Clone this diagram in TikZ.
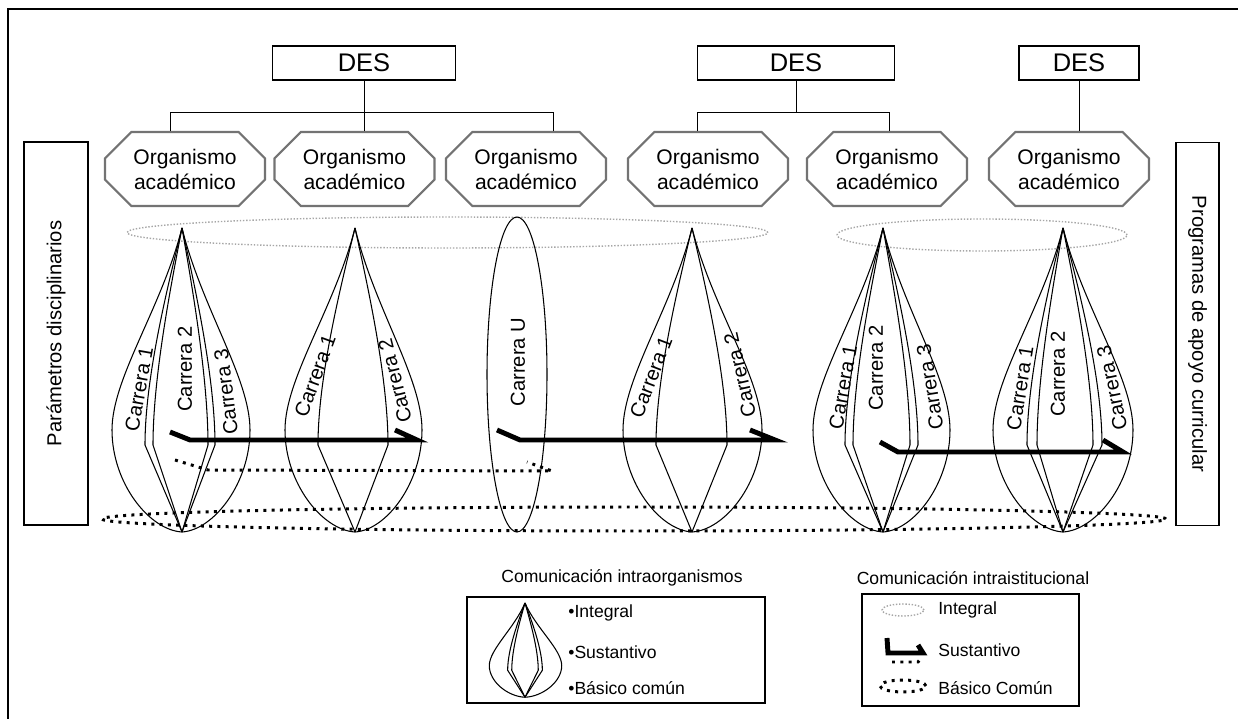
\documentclass[tikz,border=0pt]{standalone}
\usepackage{fontspec}
\setmainfont{Liberation Sans}
\usetikzlibrary{shapes.misc,calc,positioning}

\tikzset{
  des/.style={draw, line width=0.75pt, font=\fontsize{14.5}{16}\selectfont, minimum height=0.68cm},
  organismo/.style={chamfered rectangle, chamfered rectangle xsep=0.44cm, draw=black!55, line width=1.2pt,
    minimum width=3.2cm, minimum height=1.48cm, align=center, font=\fontsize{12}{14.2}\selectfont, inner sep=0pt},
  lateral/.style={draw, line width=0.75pt, minimum width=7.66cm, font=\fontsize{11.5}{13}\selectfont},
  integral/.style={draw=black!35, densely dotted, line width=0.8pt},
  petalo/.style={line width=0.6pt},
  carrera/.style={font=\fontsize{11.5}{13}\selectfont, inner sep=0pt},
  sustantivo/.style={line width=2.8pt},
  basico/.style={line width=1.7pt, dash pattern=on 1.7pt off 3pt},
  leyenda/.style={font=\fontsize{10}{12}\selectfont, inner sep=0pt},
  caja/.style={draw, line width=0.75pt}
}

\begin{document}
\begin{tikzpicture}[x=0.02cm, y=-0.02cm]
\useasboundingbox (0,0) rectangle (1238,719);
\draw[line width=0.75pt] (8,719) -- (8,9) -- (1238,9);

\node[des, minimum width=3.66cm] (des1) at (364,63) {DES};
\node[des, minimum width=3.94cm] (des2) at (796,63) {DES};
\node[des, minimum width=2.4cm] (des3) at (1079,63) {DES};

\node[organismo] (oa1) at (185,169) {Organismo\\académico};
\node[organismo] (oa2) at (354.5,169) {Organismo\\académico};
\node[organismo] (oa3) at (526,169) {Organismo\\académico};
\node[organismo] (oa4) at (708,169) {Organismo\\académico};
\node[organismo] (oa5) at (887,169) {Organismo\\académico};
\node[organismo] (oa6) at (1069,169) {Organismo\\académico};

\draw (des1.south) -- ++(0,32) coordinate (b1);
\draw ($(oa1.north)+(-15,0)$) |- (b1) -| ($(oa3.north)+(27,0)$);
\draw (b1) -- (b1 |- oa2.north);
\draw (des2.south) -- ++(0,32) coordinate (b2);
\draw ($(oa4.north)+(-11,0)$) |- (b2) -| ($(oa5.north)+(2,0)$);
\draw (des3.south) -- (des3.south |- oa6.north);

\node[lateral, minimum height=1.28cm, rotate=90] (param) at (56,333.5) {Parámetros disciplinarios};
\node[lateral, minimum height=0.86cm, rotate=-90] (progr) at (1197.5,334) {Programas de apoyo curricular};

\draw[integral] (447.5,232.5) ellipse [x radius=6.41cm, y radius=0.31cm];
\draw[integral] (982,235) ellipse [x radius=2.9cm, y radius=0.32cm];

\foreach \cx/\cy/\sx/\sy/\ol/\il in {182/228/1/1/{-70,68}/{-37,-29,26,33}, 355/228/1/1/{-70,67}/{-37,33},
    692/228/1/1/{-69,70}/{-36,35}, 883/228/1/1/{-70,67}/{-38,-30,27,35},
    1063/228/1/1/{-70,70}/{-36,-26,30,39}, 525/603/0.51/0.31/{-70,72}/{-34,-26,26,34}}{
  \begin{scope}[shift={(\cx,\cy)}, xscale=\sx, yscale=\sy]
    \foreach \w in \ol
      \draw[petalo] (0,0) .. controls ({0.29*\w},80) and (\w,150) .. (\w,202)
        .. controls (\w,255) and ({0.47*\w},302) .. (0,304);
    \foreach \w in \il
      \draw[petalo] (0,0) .. controls ({0.4*\w},60) and (\w,150) .. (\w,217) -- (0,304);
  \end{scope}
}
\draw[petalo] (517,374.5) ellipse [x radius=0.6cm, y radius=3.15cm];

\node[carrera, rotate=80] (f1c1) at (139,389) {Carrera 1};
\node[carrera, rotate=90] (f1c2) at (185,369) {Carrera 2};
\node[carrera, rotate=97] (f1c3) at (226,392) {Carrera 3};
\node[carrera, rotate=70] (f2c1) at (315,376) {Carrera 1};
\node[carrera, rotate=104] (f2c2) at (395,381) {Carrera 2};
\node[carrera, rotate=90] (f3cu) at (518,362) {Carrera U};
\node[carrera, rotate=69] (f4c1) at (651,377) {Carrera 1};
\node[carrera, rotate=103] (f4c2) at (740,375) {Carrera 2};
\node[carrera, rotate=80] (f5c1) at (843,387) {Carrera 1};
\node[carrera, rotate=90] (f5c2) at (876,368) {Carrera 2};
\node[carrera, rotate=99] (f5c3) at (930,387) {Carrera 3};
\node[carrera, rotate=81] (f6c1) at (1020,388) {Carrera 1};
\node[carrera, rotate=90] (f6c2) at (1058,374) {Carrera 2};
\node[carrera, rotate=102] (f6c3) at (1112,388) {Carrera 3};

\draw[sustantivo] (170,432) -- (190,440) -- (417,440) -- (395,430);
\draw[sustantivo] (497,430) -- (520,440) -- (775,440) -- (750,430);
\draw[sustantivo] (880,442) -- (898,452) -- (1123,452) -- (1103,440);
\draw[basico] (175,460) -- (208,470) -- (552,471) -- (527,462);
\draw[basico] (634,519) ellipse [x radius=10.64cm, y radius=0.24cm];

\node[caja, minimum width=5.96cm, minimum height=2.12cm] (ley1) at (616,650) {};
\node[leyenda] (tit1) at (622,578) {Comunicación intraorganismos};
\node[leyenda, anchor=west] (l1a) at (568,613) {•Integral};
\node[leyenda, anchor=west] (l1b) at (568,652) {•Sustantivo};
\node[leyenda, anchor=west] (l1c) at (568,688) {•Básico común};

\node[caja, minimum width=4.34cm, minimum height=2.24cm] (ley2) at (970.5,650) {};
\node[leyenda] (tit2) at (973,578) {Comunicación intraistitucional};
\draw[integral] (903,610) ellipse [x radius=0.42cm, y radius=0.12cm];
\draw[sustantivo] (887,638) -- (888,653) -- (923,653) -- (918,645);
\draw[basico] (892,662) -- (918,662) -- (922,657);
\draw[basico] (903,686) ellipse [x radius=0.46cm, y radius=0.12cm];
\node[leyenda, anchor=west] (l2a) at (938,610) {Integral};
\node[leyenda, anchor=west] (l2b) at (938,650) {Sustantivo};
\node[leyenda, anchor=west] (l2c) at (938,688) {Básico Común};
\end{tikzpicture}
\end{document}
